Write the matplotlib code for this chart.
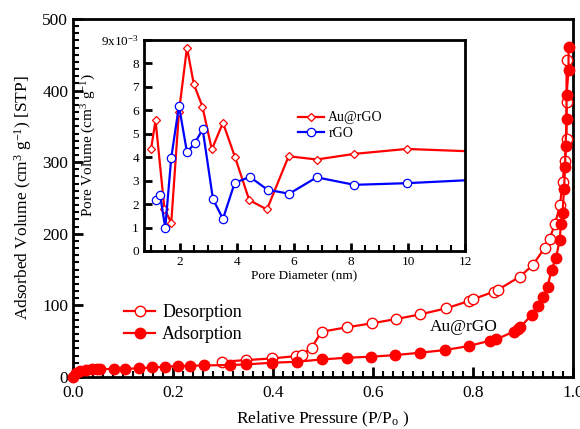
import matplotlib
matplotlib.use("Agg")
import matplotlib.pyplot as plt
from matplotlib.ticker import MultipleLocator, FixedLocator, FixedFormatter

plt.rcParams['font.family'] = ['Liberation Serif', 'DejaVu Serif']
plt.rcParams['mathtext.fontset'] = 'custom'
plt.rcParams['mathtext.rm'] = 'Liberation Serif'
plt.rcParams['mathtext.it'] = 'Liberation Serif:italic'

# isotherm, Au@rGO
ads_p = [0.0, 0.006, 0.014, 0.026, 0.037, 0.047, 0.054, 0.081, 0.104, 0.131, 0.157,
         0.183, 0.209, 0.234, 0.262, 0.313, 0.346, 0.397, 0.447, 0.497, 0.547,
         0.595, 0.644, 0.694, 0.743, 0.791, 0.833, 0.846, 0.881, 0.889, 0.894,
         0.917, 0.929, 0.939, 0.949, 0.957, 0.966, 0.973, 0.976, 0.979, 0.982,
         0.984, 0.985, 0.987, 0.987, 0.991, 0.991]
ads_v = [0, 6, 8.9, 9.8, 10.7, 10.7, 11, 11.5, 11.8, 12.1, 13.5,
         14.4, 15.4, 15.8, 16.3, 16.8, 17.7, 20, 21.4, 24.6, 27,
         28.4, 30.7, 34, 37.7, 43.3, 50.7, 52.6, 63.3, 66.6, 69.4,
         86.6, 99, 112, 126, 150, 166, 191, 214, 229, 263,
         293, 322, 360, 394, 428, 461]
des_p = [0.297, 0.346, 0.397, 0.446, 0.457, 0.477, 0.497, 0.547, 0.597, 0.646,
         0.694, 0.746, 0.791, 0.799, 0.841, 0.849, 0.893, 0.919, 0.943, 0.953,
         0.964, 0.974, 0.979, 0.984, 0.987, 0.987, 0.987]
des_v = [21.4, 23.7, 26, 29.3, 30.7, 41, 63.3, 69.4, 75, 81,
         87.5, 95.9, 106, 108.5, 119, 121.5, 140, 156, 180, 193,
         214, 240, 273, 301, 332, 384, 443]

# pore size distribution (x10^-3)
d_au = [1.0, 1.16, 1.47, 1.71, 1.98, 2.26, 2.5, 2.8, 3.13, 3.52, 3.94, 4.44,
        5.06, 5.82, 6.8, 8.12, 9.95, 12.8]
pv_au = [4.33, 5.57, 1.8, 1.2, 5.94, 8.67, 7.11, 6.16, 4.33, 5.47, 4.01, 2.17,
         1.77, 4.04, 3.9, 4.14, 4.35, 4.22]
d_rgo = [1.16, 1.32, 1.5, 1.71, 1.98, 2.26, 2.53, 2.81, 3.17, 3.52, 3.93, 4.46,
         5.08, 5.84, 6.8, 8.12, 9.95, 12.8]
pv_rgo = [2.19, 2.37, 0.99, 3.98, 6.19, 4.21, 4.59, 5.19, 2.21, 1.37, 2.9, 3.16,
          2.61, 2.44, 3.14, 2.82, 2.89, 3.06]

fig = plt.figure(figsize=(5.8, 4.29), dpi=100)
ax = fig.add_axes([0.126, 0.121, 0.862, 0.835])

ax.plot(des_p, des_v, '-o', color='red', lw=1.6, ms=7.5, mfc='white', mec='red',
        mew=1.0, label='Desorption', clip_on=False, zorder=3)
ax.plot(ads_p, ads_v, '-o', color='red', lw=1.6, ms=7.5, mfc='red', mec='red',
        label='Adsorption', clip_on=False, zorder=3)
ax.set_xlim(0, 1.0)
ax.set_ylim(0, 500)
ax.xaxis.set_major_locator(MultipleLocator(0.2))
ax.xaxis.set_minor_locator(MultipleLocator(0.02))
ax.yaxis.set_major_locator(MultipleLocator(100))
ax.yaxis.set_minor_locator(MultipleLocator(10))
ax.xaxis.set_major_formatter(matplotlib.ticker.FormatStrFormatter('%.1f'))
ax.tick_params(which='both', direction='in', top=False, right=False, labelsize=12.5)
ax.tick_params(which='major', length=7, width=2)
ax.tick_params(which='minor', length=4, width=1.5)
ax.tick_params(axis='x', pad=6)
for s in ax.spines.values():
    s.set_linewidth(2)
ax.set_xlabel('Relative Pressure (P/P$_{\\mathrm{o}}$ )', fontsize=12.5, labelpad=6)
ax.set_ylabel('Adsorbed Volume (cm$^{3}$ g$^{-1}$) [STP]', fontsize=12.5, labelpad=6)
ax.text(0.782, 70, 'Au@rGO', fontsize=12.5, ha='center', va='center')
ax.legend(loc='lower left', bbox_to_anchor=(0.07, 0.05), frameon=False,
          fontsize=13, handlelength=1.7, handletextpad=0.4, labelspacing=0.25)

ins = fig.add_axes([0.248, 0.415, 0.554, 0.492])
ins.plot(d_au, pv_au, '-D', color='red', lw=1.6, ms=4.5, mfc='white', mec='red',
         mew=0.9, label='Au@rGO')
ins.plot(d_rgo, pv_rgo, '-o', color='blue', lw=1.6, ms=6, mfc='white', mec='blue',
         mew=0.9, label='rGO')
ins.set_xlim(0.75, 12)
ins.set_ylim(0, 9)
ins.xaxis.set_major_locator(MultipleLocator(2))
ins.xaxis.set_minor_locator(MultipleLocator(0.5))
ins.yaxis.set_major_locator(FixedLocator(range(10)))
ins.yaxis.set_major_formatter(FixedFormatter([str(i) for i in range(9)] + ['9x10$^{-3}$']))
ins.tick_params(which='both', direction='in', top=False, right=False, labelsize=9.5)
ins.tick_params(which='major', length=6, width=2)
ins.tick_params(which='minor', length=4, width=1.5)
for s in ins.spines.values():
    s.set_linewidth(2)
ins.set_xlabel('Pore Diameter (nm)', fontsize=9.5, labelpad=2)
ins.set_ylabel('Pore Volume (cm$^{3}$ g$^{-1}$)', fontsize=11, labelpad=2)
ins.legend(loc='upper left', bbox_to_anchor=(0.44, 0.72), frameon=False,
           fontsize=10, handlelength=1.9, handletextpad=0.3, labelspacing=0.15)

fig.savefig('out.png', dpi=100)
